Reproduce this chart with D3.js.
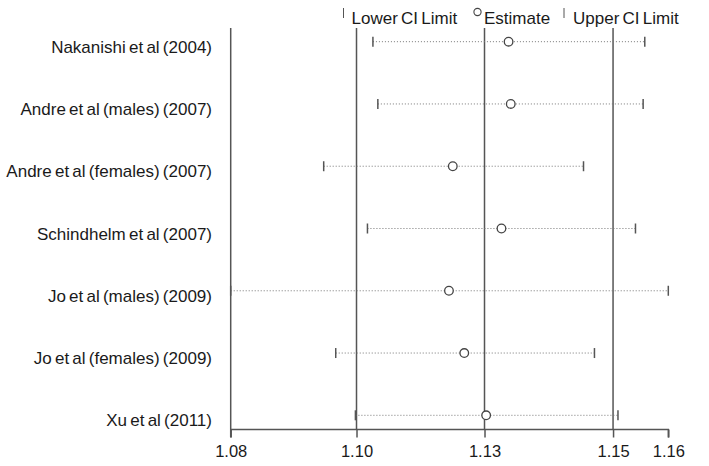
<!DOCTYPE html>
<html><head><meta charset="utf-8">
<script src="https://cdn.jsdelivr.net/npm/d3@7"></script>
<style>
html,body{margin:0;padding:0;background:#fff;}
svg{display:block;font-family:"Liberation Sans",Arial,sans-serif;}
</style></head>
<body><svg id="c" width="709" height="466"></svg>
<script>
const studies = ["Nakanishi et al (2004)","Andre et al (males) (2007)","Andre et al (females) (2007)","Schindhelm et al (2007)","Jo et al (males) (2009)","Jo et al (females) (2009)","Xu et al (2011)"];
const estimate = [1.1308,1.1312,1.1206,1.1295,1.1199,1.1227,1.1267];
const lowerCI  = [1.1060,1.1069,1.0970,1.1050,1.0800,1.0992,1.1028];
const upperCI  = [1.1557,1.1554,1.1445,1.1540,1.1600,1.1465,1.1508];
const tickValues = [1.08,1.1030,1.1264,1.1499,1.16];
const tickLabels = ["1.08","1.10","1.13","1.15","1.16"];
const refLines = [1.1030,1.1264,1.1499];

const svg = d3.select("#c");
const x = d3.scaleLinear().domain([1.08,1.16]).range([230.7,668.3]);
const y = d3.scalePoint().domain(studies).range([41.7,415.3]);
const axisY = 429.5, topY = 28;
const lineCol = "#555", textCol = "#1a1a1a";

svg.append("line").attr("x1",x(1.08)).attr("x2",x(1.08)).attr("y1",topY).attr("y2",axisY)
  .attr("stroke",lineCol).attr("stroke-width",1.5);
svg.selectAll("line.ref").data(refLines).join("line").attr("class","ref")
  .attr("x1",d=>x(d)).attr("x2",d=>x(d)).attr("y1",topY).attr("y2",axisY)
  .attr("stroke",lineCol).attr("stroke-width",1.5);

const ax = svg.append("g").attr("transform",`translate(0,${axisY})`)
  .call(d3.axisBottom(x).tickValues(tickValues).tickFormat((d,i)=>tickLabels[i]).tickSize(8).tickPadding(8));
ax.select(".domain").attr("stroke",lineCol).attr("stroke-width",1.5).attr("d",`M${x(1.08)},8V0H${x(1.16)}V8`);
ax.selectAll(".tick line").attr("stroke",lineCol).attr("stroke-width",1.5);
ax.selectAll(".tick text").attr("fill",textCol).attr("font-size",16.5).attr("font-family","Liberation Sans, Arial, sans-serif");

svg.selectAll("text.lab").data(studies).join("text").attr("class","lab")
  .attr("x",212).attr("y",d=>y(d)+11).attr("text-anchor","end")
  .attr("font-size",17).attr("fill",textCol).attr("word-spacing",-1.5).text(d=>d);

const rows = studies.map((s,i)=>({s,e:estimate[i],lo:lowerCI[i],hi:upperCI[i]}));
const g = svg.append("g");
g.selectAll("line.ci").data(rows).join("line").attr("class","ci")
  .attr("x1",d=>x(d.lo)).attr("x2",d=>x(d.hi)).attr("y1",d=>y(d.s)).attr("y2",d=>y(d.s))
  .attr("stroke","#777").attr("stroke-width",1).attr("stroke-dasharray","1,2");
g.selectAll("line.lo").data(rows).join("line").attr("class","lo")
  .attr("x1",d=>x(d.lo)).attr("x2",d=>x(d.lo)).attr("y1",d=>y(d.s)-5).attr("y2",d=>y(d.s)+5)
  .attr("stroke",lineCol).attr("stroke-width",1.5);
g.selectAll("line.hi").data(rows).join("line").attr("class","hi")
  .attr("x1",d=>x(d.hi)).attr("x2",d=>x(d.hi)).attr("y1",d=>y(d.s)-5).attr("y2",d=>y(d.s)+5)
  .attr("stroke",lineCol).attr("stroke-width",1.5);
g.selectAll("circle").data(rows).join("circle")
  .attr("cx",d=>x(d.e)).attr("cy",d=>y(d.s)).attr("r",4.3)
  .attr("fill","#fff").attr("stroke","#444").attr("stroke-width",1.3);

const leg = svg.append("g");
leg.append("line").attr("x1",343.5).attr("x2",343.5).attr("y1",8).attr("y2",18).attr("stroke",lineCol).attr("stroke-width",1);
leg.append("text").attr("x",351.5).attr("y",24).attr("font-size",17).attr("fill",textCol).attr("word-spacing",-1.5).text("Lower CI Limit");
leg.append("circle").attr("cx",477.5).attr("cy",12).attr("r",3.6).attr("fill","#fff").attr("stroke","#444").attr("stroke-width",1.1);
leg.append("text").attr("x",484).attr("y",24).attr("font-size",17).attr("fill",textCol).text("Estimate");
leg.append("line").attr("x1",564).attr("x2",564).attr("y1",8).attr("y2",18).attr("stroke",lineCol).attr("stroke-width",1);
leg.append("text").attr("x",573).attr("y",24).attr("font-size",17).attr("fill",textCol).attr("word-spacing",-1.5).text("Upper CI Limit");
</script></body></html>
